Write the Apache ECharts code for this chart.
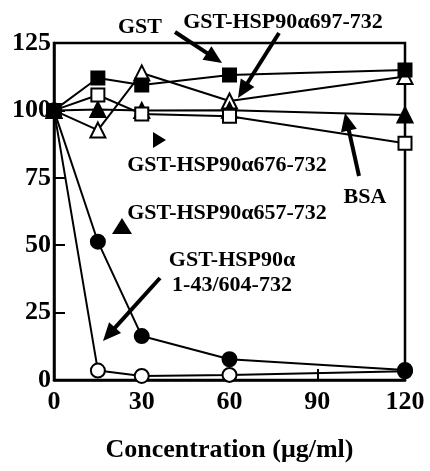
<!DOCTYPE html>
<html><head><meta charset="utf-8">
<script src="https://cdn.jsdelivr.net/npm/echarts@6/dist/echarts.min.js"></script>
<style>html,body{margin:0;padding:0;background:#fff}#c{width:430px;height:471px}</style>
</head><body><div id="c"></div>
<script>
const concentrations = [0, 15, 30, 60, 120];
const xTicks = [0, 30, 60, 90, 120];
const yTicks = [0, 25, 50, 75, 100, 125];
const gst = [100, 112, 109.4, 113.1, 115];
const hsp697 = [100, 92.7, 113.9, 103.5, 112.6];
const hsp676 = [100, 100.3, 100, 100.1, 98.3];
const bsa = [100, 105.7, 98.7, 97.8, 87.8];
const hsp657 = [100, 51.3, 16.3, 7.7, 3.7];
const hsp1_43 = [100, 3.5, 1.5, 1.9, 3.2];

const FONT = '"Liberation Serif", "Times New Roman", serif';
const chart = echarts.init(document.getElementById('c'));

function mk(name, data, symbol, size, filled, z) {
  return {
    name, type: 'line', data: concentrations.map((x, i) => [x, data[i]]),
    symbol, symbolSize: size, z,
    lineStyle: { color: '#000', width: 2 },
    itemStyle: { color: filled ? '#000' : '#fff', borderColor: '#000', borderWidth: 2, opacity: 1 },
    emphasis: { disabled: true }, animation: false
  };
}

function arrow(x1, y1, x2, y2, head) {
  head = head || 18;
  const dx = x2 - x1, dy = y2 - y1, L = Math.hypot(dx, dy);
  const ux = dx / L, uy = dy / L, px = -uy, py = ux;
  const bx = x2 - ux * head, by = y2 - uy * head;
  const w = head * 0.45;
  return [
    { type: 'line', shape: { x1, y1, x2: bx + ux * 2, y2: by + uy * 2 }, style: { stroke: '#000', lineWidth: 4 }, z: 100 },
    { type: 'polygon', shape: { points: [[x2, y2], [bx + px * w, by + py * w], [bx - px * w, by - py * w]] }, style: { fill: '#000' }, z: 100 }
  ];
}
function txt(x, y, t, size) {
  return { type: 'text', x, y, z: 100, style: { text: t, font: 'bold ' + (size || 22) + 'px ' + FONT, fill: '#000', align: 'center', verticalAlign: 'middle' } };
}

chart.setOption({
  animation: false,
  backgroundColor: '#fff',
  grid: { left: 54, right: 25, top: 43, bottom: 91, show: true, borderColor: '#000', borderWidth: 2.5 },
  xAxis: {
    type: 'value', min: 0, max: 120, interval: 30,
    name: 'Concentration (μg/ml)', nameLocation: 'middle', nameGap: 57,
    nameTextStyle: { fontFamily: FONT, fontWeight: 'bold', fontSize: 26, color: '#000' },
    axisLine: { show: true, lineStyle: { color: '#000', width: 2.5 } },
    axisTick: { show: true, inside: true, length: 11, lineStyle: { color: '#000', width: 2 } },
    axisLabel: { fontFamily: FONT, fontWeight: 'bold', fontSize: 26, color: '#000', margin: 9,
      formatter: v => xTicks.includes(v) ? String(v) : '' },
    splitLine: { show: false }
  },
  yAxis: {
    type: 'value', min: 0, max: 125, interval: 25,
    axisLine: { show: true, lineStyle: { color: '#000', width: 2.5 } },
    axisTick: { show: true, inside: true, length: 11, lineStyle: { color: '#000', width: 2 } },
    axisLabel: { fontFamily: FONT, fontWeight: 'bold', fontSize: 26, color: '#000', margin: 3,
      formatter: v => yTicks.includes(v) ? String(v) : '' },
    splitLine: { show: false }
  },
  series: [
    mk('GST-HSP90α 1-43/604-732', hsp1_43, 'circle', 14, false, 2),
    mk('GST-HSP90α657-732', hsp657, 'circle', 14, true, 3),
    mk('GST-HSP90α697-732', hsp697, 'triangle', 15, false, 4),
    mk('GST-HSP90α676-732', hsp676, 'triangle', 15, true, 5),
    mk('BSA', bsa, 'rect', 13, false, 6),
    mk('GST', gst, 'rect', 13, true, 7)
  ],
  graphic: [
    txt(140, 27, 'GST'),
    txt(283, 22, 'GST-HSP90α697-732'),
    txt(227, 165, 'GST-HSP90α676-732'),
    txt(365, 197, 'BSA'),
    txt(227, 213, 'GST-HSP90α657-732'),
    txt(232, 260, 'GST-HSP90α'),
    txt(232, 285, '1-43/604-732'),
    ...arrow(175, 32, 222, 63),
    ...arrow(279, 33, 238, 98),
    ...arrow(359, 176, 345, 113),
    ...arrow(160, 278, 103, 341),
    { type: 'polygon', z: 100, shape: { points: [[153, 132], [153, 148], [166, 140]] }, style: { fill: '#000' } },
    { type: 'polygon', z: 100, shape: { points: [[122, 218], [112, 234], [132, 234]] }, style: { fill: '#000' } }
  ]
});
</script></body></html>
